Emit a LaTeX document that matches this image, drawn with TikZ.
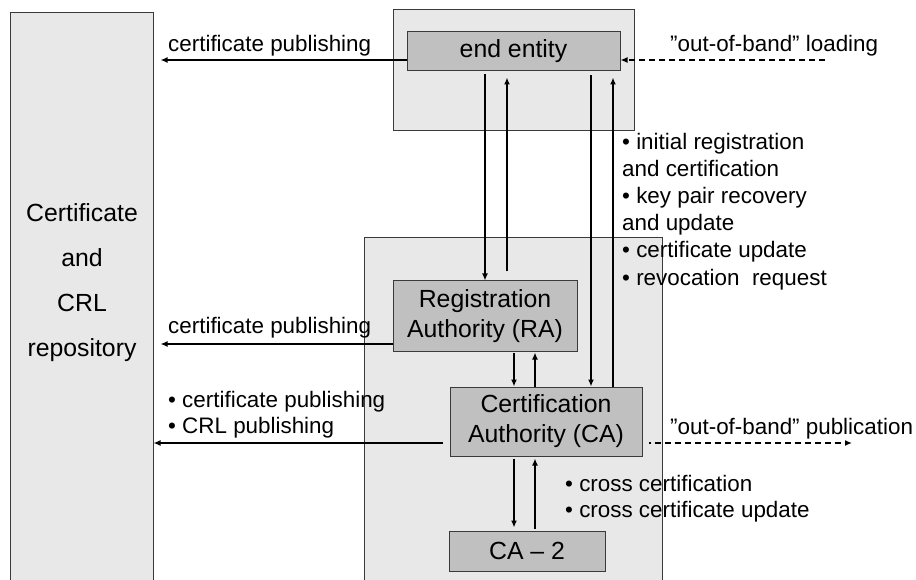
\documentclass[tikz,border=0pt]{standalone}
\usepackage{fontspec}
\setmainfont{Liberation Sans}
\usetikzlibrary{arrows.meta}
\usetikzlibrary{positioning}

\definecolor{panelgray}{HTML}{E8E8E8}
\definecolor{boxgray}{HTML}{C0C0C0}
\definecolor{edgegray}{HTML}{3A3A3A}

\begin{document}
\begin{tikzpicture}[x=1pt,y=-1pt,
    panel/.style={fill=panelgray,draw=edgegray,line width=1pt,inner sep=0},
    entity/.style={fill=boxgray,draw=edgegray,line width=1pt,inner sep=0,align=center,
        font=\fontsize{24.8}{30}\selectfont},
    edge/.style={edgegray,line width=1pt},
    arr/.style={line width=1.4pt,-{Latex[length=7pt,width=6pt]}},
    oob/.style={arr,dash pattern=on 6pt off 4pt},
    lbl/.style={anchor=base west,inner sep=0,font=\fontsize{22.4}{27}\selectfont}]

\useasboundingbox (0,0) rectangle (916,580);

% repository and the two panels (open at the bottom)
\node [panel,draw=none,minimum width=142pt,minimum height=567pt] (repo) at (82,296.5) {};
\draw [edge] (repo.south west) |- (repo.north east) -- (repo.south east);
\node [align=center,inner sep=0,font=\fontsize{24.8}{45}\selectfont] (repotext) at (82,283)
        {Certificate\\and\\CRL\\repository};

\node [panel,minimum width=241pt,minimum height=121pt] (eepanel) at (513.5,70.5) {};
\node [panel,draw=none,minimum width=297pt,minimum height=342pt] (capanel) at (513.5,409) {};
\draw [edge] (capanel.south west) |- (capanel.north east) -- (capanel.south east);

% entities
\node [entity,minimum width=213pt,minimum height=39pt] (ee) at (513.5,51.5) {end entity};
\node [entity,minimum width=184pt,minimum height=70pt] (ra) at (485,316) {Registration\\Authority (RA)};
\node [entity,minimum width=192pt,minimum height=69pt] (ca) at (546,421.5) {Certification\\Authority (CA)};
\node [entity,minimum width=156pt,minimum height=40pt] (ca2) at (527,551) {CA -- 2};

% publishing to the repository
\coordinate (eepub) at ([yshift=-8.5pt]ee.west);
\coordinate (rapub) at ([yshift=-28pt]ra.west);
\coordinate (capub) at ([yshift=-21.5pt]ca.west);
\draw [arr] (eepub) -- ([xshift=7pt]repo.east |- eepub);
\draw [arr] (rapub) -- ([xshift=7pt]repo.east |- rapub);
\draw [arr,shorten <=7pt] (capub) -- (repo.east |- capub);

% out-of-band
\coordinate (loadsrc) at (825,60);
\coordinate (pubdst) at (852,443);
\draw [oob] (loadsrc) -- (ee.east |- eepub);
\draw [oob,dash phase=4pt] ([xshift=6pt]ca.east |- capub) -- (pubdst);

% end entity <-> RA, CA
\draw [arr,shorten <=3pt] (ra.north |- ee.south) -- (ra.north);
\draw [arr,shorten <=9pt,shorten >=6pt] ([xshift=22pt]ra.north) -- ([xshift=22pt]ra.north |- ee.south);
\draw [arr,shorten <=4pt] ([xshift=45pt]ca.north |- ee.south) -- ([xshift=45pt]ca.north);
\draw [arr,shorten >=6pt] ([xshift=67pt]ca.north) -- ([xshift=67pt]ca.north |- ee.south);

% RA <-> CA <-> CA-2
\draw [arr,shorten <=1pt] ([xshift=-32pt]ca.north |- ra.south) -- ([xshift=-32pt]ca.north);
\draw [arr,shorten >=1pt] ([xshift=-11pt]ca.north) -- ([xshift=-11pt]ca.north |- ra.south);
\draw [arr,shorten <=2pt,shorten >=3pt] ([xshift=-32pt]ca.south) -- ([xshift=-32pt]ca.south |- ca2.north);
\draw [arr,shorten <=2pt,shorten >=2pt] ([xshift=-11pt]ca.south |- ca2.north) -- ([xshift=-11pt]ca.south);

% labels
\node [lbl] (eepubl) at (168,52) {certificate publishing};
\node [lbl] (rapubl) at (168,333) {certificate publishing};
\node [lbl] (capubl1) at (168,407) {• certificate publishing};
\node [lbl] (capubl2) at (168,433) {• CRL publishing};
\node [lbl] (loadl) at (670,52) {”out-of-band” loading};
\node [lbl] (publ) at (670,434) {”out-of-band” publication};
\foreach \txt [count=\i from 0] in {• initial registration, and certification, • key pair recovery,
        and update, • certificate update, • revocation~ request}
    \node [lbl] (req\i) at (622,150+27*\i) {\txt};
\node [lbl] (cross1) at (565,491) {• cross certification};
\node [lbl] (cross2) at (565,517) {• cross certificate update};
\end{tikzpicture}
\end{document}
